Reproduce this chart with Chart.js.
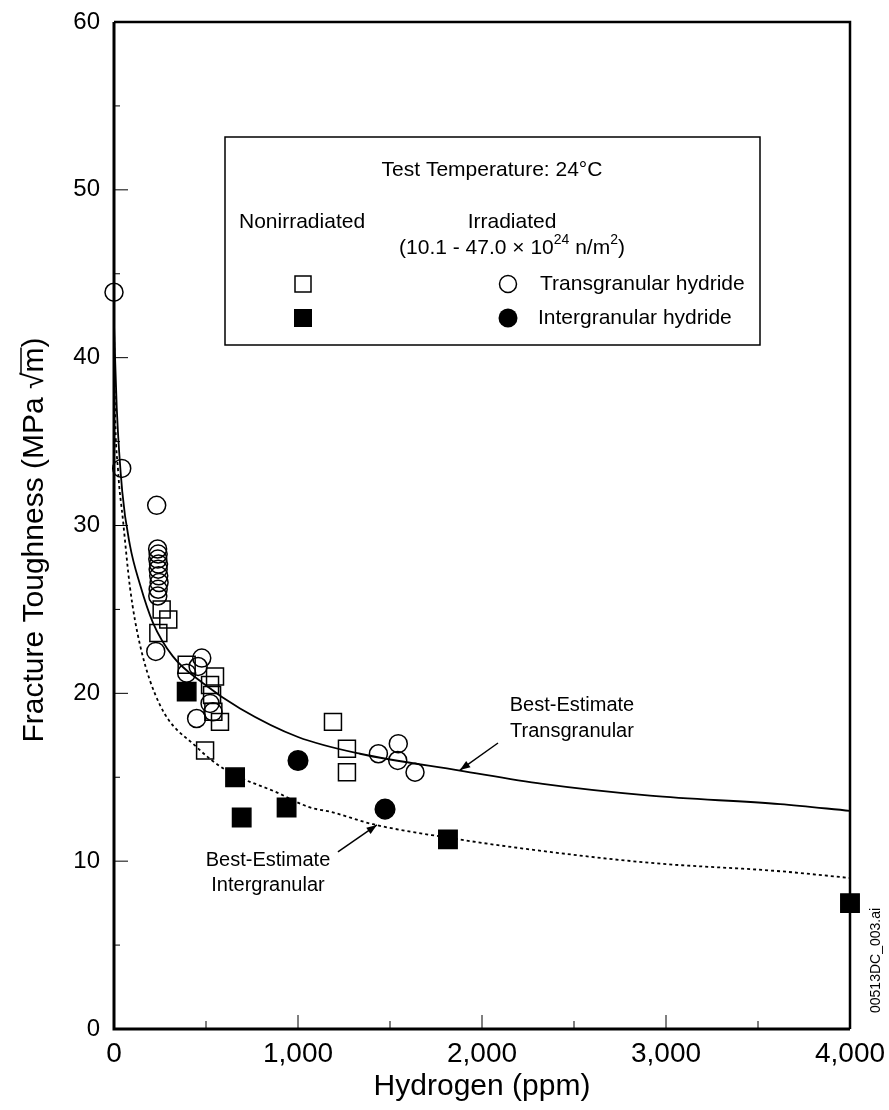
<!DOCTYPE html>
<html>
<head>
<meta charset="utf-8">
<script src="https://cdn.jsdelivr.net/npm/chart.js@4.4.1/dist/chart.umd.min.js"></script>
<style>
  html, body { margin: 0; padding: 0; background: #fff; }
  #wrap { width: 889px; height: 1110px; }
</style>
</head>
<body>
<div id="wrap"><canvas id="toughChart" width="889" height="1110"></canvas></div>
<script>
// * data
const xTickValues = [0, 1000, 2000, 3000, 4000];
const xTickLabels = ["0", "1,000", "2,000", "3,000", "4,000"];
const yTickValues = [0, 10, 20, 30, 40, 50, 60];

// nonirradiated, open squares
const openSqH = [259, 295, 241, 395, 549, 522, 533, 540, 576, 495, 1190, 1266, 1266];
const openSqK = [25.0, 24.4, 23.6, 21.7, 21.0, 20.5, 19.9, 18.9, 18.3, 16.6, 18.3, 16.7, 15.3];

// nonirradiated, filled squares
const fillSqH = [395, 658, 694, 938, 1815, 4000];
const fillSqK = [20.1, 15.0, 12.6, 13.2, 11.3, 7.5];

// irradiated transgranular, open circles
const openCircH = [0, 42, 232, 237, 240, 238, 242, 240, 243, 245, 240, 238, 227, 395, 457, 477, 522, 538, 449, 1437, 1545, 1542, 1636];
const openCircK = [43.9, 33.4, 31.2, 28.6, 28.3, 28.0, 27.7, 27.4, 27.0, 26.6, 26.2, 25.8, 22.5, 21.2, 21.6, 22.1, 19.4, 18.9, 18.5, 16.4, 17.0, 16.0, 15.3];

// irradiated intergranular, filled circles
const fillCircH = [1000, 1473];
const fillCircK = [16.0, 13.1];

// best-estimate curves
const transCurveH = [0, 15, 45, 87, 141, 212, 320, 484, 685, 1000, 1337, 1880, 2330, 2913, 3620, 4000];
const transCurveK = [42.0, 37.0, 32.0, 28.8, 26.5, 24.2, 22.2, 20.6, 19.1, 17.4, 16.4, 15.4, 14.6, 13.9, 13.4, 13.0];
const interCurveH = [0, 5, 22, 49, 87, 141, 250, 449, 612, 884, 1065, 1174, 1408, 1815, 2261, 2913, 3620, 4000];
const interCurveK = [42.0, 37.3, 33.3, 30.3, 26.3, 22.9, 19.3, 16.8, 15.4, 14.1, 13.2, 12.95, 12.2, 11.4, 10.7, 9.9, 9.4, 9.0];

const zip = (xs, ys) => xs.map((x, i) => ({ x: x, y: ys[i] }));
const FONT = "'Liberation Sans', Arial, sans-serif";

// * frame, inward ticks, legend box and notes
const decorPlugin = {
  id: "decor",
  afterDraw(chart) {
    const ctx = chart.ctx;
    const { left, right, top, bottom } = chart.chartArea;
    const xs = chart.scales.x;
    const ys = chart.scales.y;
    ctx.save();
    ctx.strokeStyle = "#000";
    ctx.fillStyle = "#000";

    // frame
    ctx.lineWidth = 3;
    ctx.beginPath();
    ctx.moveTo(left, top);
    ctx.lineTo(left, bottom);
    ctx.lineTo(right, bottom);
    ctx.stroke();
    ctx.lineWidth = 2.5;
    ctx.beginPath();
    ctx.moveTo(left, top);
    ctx.lineTo(right, top);
    ctx.lineTo(right, bottom);
    ctx.stroke();

    // inward ticks
    ctx.lineWidth = 1;
    for (let v = 500; v < 4000; v += 500) {
      const px = xs.getPixelForValue(v);
      const len = v % 1000 === 0 ? 14 : 8;
      ctx.beginPath();
      ctx.moveTo(px, bottom);
      ctx.lineTo(px, bottom - len);
      ctx.stroke();
    }
    for (let v = 5; v < 60; v += 5) {
      const py = ys.getPixelForValue(v);
      const len = v % 10 === 0 ? 14 : 6;
      ctx.beginPath();
      ctx.moveTo(left, py);
      ctx.lineTo(left + len, py);
      ctx.stroke();
    }

    // y axis title with radical
    ctx.save();
    ctx.translate(35, 540);
    ctx.rotate(-Math.PI / 2);
    ctx.font = "30px " + FONT;
    ctx.textBaseline = "middle";
    const t1 = "Fracture Toughness (MPa \u221A";
    const total = ctx.measureText(t1 + "m)").width;
    const tx = -total / 2;
    ctx.fillText(t1, tx, 0);
    const w1 = ctx.measureText(t1).width;
    ctx.fillText("m", tx + w1, 0);
    const wm = ctx.measureText("m").width;
    ctx.fillText(")", tx + w1 + wm, 0);
    ctx.lineWidth = 1.5;
    ctx.beginPath();
    ctx.moveTo(tx + w1 - 2, -14);
    ctx.lineTo(tx + w1 + wm, -14);
    ctx.stroke();
    ctx.restore();

    // legend box
    const bx = 225, by = 137, bw = 535, bh = 208;
    ctx.lineWidth = 1.5;
    ctx.strokeRect(bx, by, bw, bh);
    ctx.font = "21px " + FONT;
    ctx.textBaseline = "middle";
    ctx.textAlign = "center";
    ctx.fillText("Test Temperature: 24\u00B0C", 492, 170);
    ctx.fillText("Irradiated", 512, 222);
    ctx.textAlign = "left";
    ctx.fillText("Nonirradiated", 239, 222);

    // (10.1 - 47.0 x 10^24 n/m^2)
    const parts = [
      ["(10.1 - 47.0 \u00D7 10", 21, 0],
      ["24", 14, -8],
      [" n/m", 21, 0],
      ["2", 14, -8],
      [")", 21, 0],
    ];
    let pw = 0;
    parts.forEach((p) => {
      ctx.font = p[1] + "px " + FONT;
      pw += ctx.measureText(p[0]).width;
    });
    let cx = 512 - pw / 2;
    parts.forEach((p) => {
      ctx.font = p[1] + "px " + FONT;
      ctx.fillText(p[0], cx, 248 + p[2]);
      cx += ctx.measureText(p[0]).width;
    });

    // legend markers
    ctx.lineWidth = 1.5;
    ctx.strokeRect(295, 276, 16, 16);
    ctx.fillRect(294, 309, 18, 18);
    ctx.beginPath();
    ctx.arc(508, 284, 8.5, 0, Math.PI * 2);
    ctx.stroke();
    ctx.beginPath();
    ctx.arc(508, 318, 9.5, 0, Math.PI * 2);
    ctx.fill();
    ctx.font = "21px " + FONT;
    ctx.fillText("Transgranular hydride", 540, 284);
    ctx.fillText("Intergranular hydride", 538, 318);

    // curve notes
    ctx.font = "20px " + FONT;
    ctx.textAlign = "center";
    const tLab = [xs.getPixelForValue(2489), ys.getPixelForValue(19.3)];
    ctx.fillText("Best-Estimate", tLab[0], tLab[1]);
    ctx.fillText("Transgranular", tLab[0], tLab[1] + 26);
    const iLab = [xs.getPixelForValue(837), ys.getPixelForValue(10.07)];
    ctx.fillText("Best-Estimate", iLab[0], iLab[1]);
    ctx.fillText("Intergranular", iLab[0], iLab[1] + 25);

    const arrow = (h0, k0, h1, k1) => {
      const x0 = xs.getPixelForValue(h0), y0 = ys.getPixelForValue(k0);
      const x1 = xs.getPixelForValue(h1), y1 = ys.getPixelForValue(k1);
      const a = Math.atan2(y1 - y0, x1 - x0);
      ctx.lineWidth = 1.5;
      ctx.beginPath();
      ctx.moveTo(x0, y0);
      ctx.lineTo(x1, y1);
      ctx.stroke();
      ctx.beginPath();
      ctx.moveTo(x1, y1);
      ctx.lineTo(x1 - 11 * Math.cos(a - 0.35), y1 - 11 * Math.sin(a - 0.35));
      ctx.lineTo(x1 - 11 * Math.cos(a + 0.35), y1 - 11 * Math.sin(a + 0.35));
      ctx.closePath();
      ctx.fill();
    };
    arrow(2087, 17.04, 1880, 15.43);
    arrow(1217, 10.55, 1429, 12.16);

    // file id, rotated
    ctx.save();
    ctx.translate(876, 1013);
    ctx.rotate(-Math.PI / 2);
    ctx.font = "14px " + FONT;
    ctx.textAlign = "left";
    ctx.fillText("00513DC_003.ai", 0, 0);
    ctx.restore();

    ctx.restore();
  },
};

const pointSet = (label, hs, ks, style, radius, filled) => ({
  type: "scatter",
  label: label,
  data: zip(hs, ks),
  pointStyle: style,
  pointRadius: radius,
  pointHoverRadius: radius,
  pointBorderWidth: 1.5,
  borderColor: "#000",
  backgroundColor: filled ? "#000" : "rgba(0,0,0,0)",
  showLine: false,
  clip: false,
});

const data = {
  datasets: [
    {
      type: "line",
      label: "Best-Estimate Transgranular",
      data: zip(transCurveH, transCurveK),
      borderColor: "#000",
      borderWidth: 1.8,
      pointRadius: 0,
      cubicInterpolationMode: "monotone",
      fill: false,
    },
    {
      type: "line",
      label: "Best-Estimate Intergranular",
      data: zip(interCurveH, interCurveK),
      borderColor: "#000",
      borderWidth: 1.8,
      borderDash: [3, 3],
      pointRadius: 0,
      cubicInterpolationMode: "monotone",
      fill: false,
    },
    pointSet("Nonirradiated (open)", openSqH, openSqK, "rect", 12, false),
    pointSet("Nonirradiated (filled)", fillSqH, fillSqK, "rect", 13, true),
    pointSet("Transgranular hydride", openCircH, openCircK, "circle", 9, false),
    pointSet("Intergranular hydride", fillCircH, fillCircK, "circle", 9.8, true),
  ],
};

const config = {
  data: data,
  plugins: [decorPlugin],
  options: {
    responsive: false,
    animation: false,
    events: [],
    layout: { padding: { top: 22, right: 39, left: 0, bottom: 0 } },
    plugins: {
      legend: { display: false },
      tooltip: { enabled: false },
    },
    scales: {
      x: {
        type: "linear",
        min: 0,
        max: 4000,
        afterBuildTicks: (s) => {
          s.ticks = xTickValues.map((v) => ({ value: v }));
        },
        afterFit: (s) => {
          s.height = 81;
          s.paddingLeft = 0;
          s.paddingRight = 0;
        },
        ticks: {
          color: "#000",
          padding: 0,
          maxRotation: 0,
          font: { family: FONT, size: 28 },
          callback: (v) => xTickLabels[xTickValues.indexOf(v)],
        },
        grid: { display: false },
        border: { display: false },
        title: {
          display: true,
          text: "Hydrogen (ppm)",
          color: "#000",
          font: { family: FONT, size: 30 },
          padding: { top: 0, bottom: 5 },
        },
      },
      y: {
        type: "linear",
        min: 0,
        max: 60,
        afterBuildTicks: (s) => {
          s.ticks = yTickValues.map((v) => ({ value: v }));
        },
        afterFit: (s) => {
          s.width = 114;
          s.paddingTop = 0;
          s.paddingBottom = 0;
        },
        ticks: {
          color: "#000",
          padding: 6,
          font: { family: FONT, size: 24 },
        },
        grid: { display: false },
        border: { display: false },
      },
    },
  },
};

const ctxTough = document.getElementById("toughChart").getContext("2d");
new Chart(ctxTough, config);
</script>
</body>
</html>
